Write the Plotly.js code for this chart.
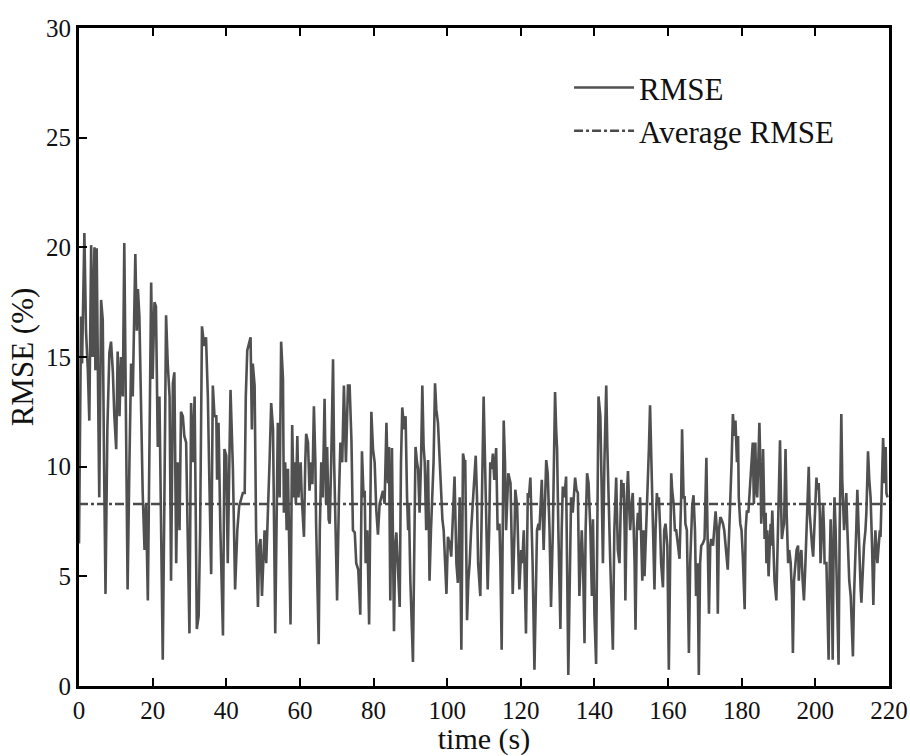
<!DOCTYPE html>
<html>
<head>
<meta charset="utf-8">
<script src="https://cdn.plot.ly/plotly-3.0.1.min.js"></script>
<style>
html,body{margin:0;padding:0;background:#fff;}
#chart{width:910px;height:756px;}
</style>
</head>
<body>
<div id="chart"></div>
<script>
// time (s)
var time = [
0, 0.56, 0.83, 1.46, 1.9, 2.4, 2.8, 3.3, 3.7, 4.2, 4.45, 4.8, 5.2, 5.5, 6.0, 6.45, 6.8, 7.2, 7.7, 8.25, 8.7, 9.2, 9.6, 10.1, 10.5, 11.0, 11.4, 11.9, 12.3, 12.8, 13.2, 13.7, 14.15, 14.6, 15.3, 15.7, 16.0, 16.4, 16.9, 17.3, 17.8, 18.2, 18.7, 19.1, 19.6, 20.0, 20.5, 20.9, 21.4, 21.85, 22.3, 22.75, 23.2, 23.65, 24.1, 24.6, 25.0, 25.5, 25.9, 26.4, 26.8, 27.3, 27.7, 28.2, 28.6, 29.1, 29.5, 30.0, 30.45, 30.9, 31.4, 32.0, 32.5, 32.9, 33.4, 34.0, 34.5, 35.0, 35.4, 35.9,
36.35, 36.8, 37.3, 37.5, 37.9, 38.4, 39.1, 39.5, 40.0, 40.4, 41.15, 41.5, 41.8, 42.4, 43.0, 43.5, 44.05, 44.5, 45.0, 45.3, 45.7, 46.1, 46.6, 46.95, 47.2, 47.7, 48.1, 48.6, 48.95, 49.3, 49.7, 49.9, 50.4, 50.85, 51.3, 51.75, 52.2, 52.7, 53.3, 53.65, 54.0, 54.5, 54.9, 55.4, 55.65, 56.0, 56.4, 56.75, 57.45, 57.9, 58.3, 58.55, 58.9, 59.3, 59.6, 59.9, 60.2, 60.5, 61.1, 61.45, 61.7, 62.2, 62.6, 63.1, 63.4, 63.8, 64.2, 64.4, 65.1, 65.4, 65.8, 66.2, 66.7, 67.1, 67.4, 67.8, 68.1, 68.5, 69.0, 69.3, 69.6, 70.1, 70.6, 71.0, 71.5, 71.95, 72.5,
73.05, 73.5, 74.0, 74.4, 74.9, 75.3, 75.85, 76.4, 76.85, 77.3, 77.6, 77.85, 78.3, 78.8, 79.4, 79.85, 80.3, 80.75, 81.2, 81.65, 82.1, 82.55, 83.0, 83.5, 83.9, 84.2, 84.55, 85.0, 85.55, 85.9, 86.2, 86.65, 87.1, 87.45, 87.8, 88.3, 88.7, 89.1, 89.4, 89.6, 90.0, 90.7, 91.2, 91.4, 91.8, 92.1, 92.5, 92.9, 93.25, 93.6, 93.9, 94.3, 94.8, 95.2, 95.6, 95.95, 96.3, 96.7, 97.05, 97.5, 97.95, 98.3, 98.7, 99.05, 99.8, 100.2, 100.7, 101.1, 101.6, 102.0, 102.5, 102.9, 103.4, 103.85, 104.3, 104.7, 104.9, 105.4, 105.75, 106.1, 106.5, 106.8, 107.3, 107.75, 108.1, 108.4, 109.0, 109.9,
110.6, 111.0, 111.4, 111.7, 112.1, 112.4, 112.8, 113.3, 113.7, 114.2, 114.45, 114.8, 115.35, 115.7, 116.0, 116.6, 117.2, 117.5, 117.8, 118.3, 118.5, 119.0, 119.6, 120.1, 120.4, 120.8, 121.4, 121.9, 122.2, 122.6, 122.95, 123.2, 123.7, 124.1, 124.4, 124.8, 125.05, 125.7, 126.2, 126.9, 127.3, 127.8, 128.2, 128.7, 128.9, 129.3, 129.6, 129.85, 130.2, 130.75, 131.1, 131.4, 131.85, 132.3, 132.9, 133.3, 133.65, 134.1, 134.4, 134.75, 135.1, 135.5, 135.9, 136.55, 136.9, 137.3, 137.6, 138.0, 138.4, 138.6, 138.9, 139.3, 139.6, 140.0, 140.45, 141.1, 141.6, 142.0, 142.3, 142.7, 143.2, 143.5, 143.8, 144.3, 145.0, 145.4, 145.9,
146.35, 146.8, 147.3, 147.5, 147.9, 148.2, 148.4, 148.8, 149.1, 149.5, 149.7, 150.1, 150.4, 150.9, 151.15, 151.5, 151.8, 152.1, 152.4, 153.0, 153.3, 153.6, 154.05, 154.5, 154.8, 155.1, 155.4, 155.7, 156.05, 156.3, 156.6, 156.95, 157.2, 157.5, 157.85, 158.1, 158.6, 158.95, 159.3, 159.8, 160.2, 160.6, 160.85, 161.1, 161.5, 161.85, 162.2, 162.7, 163.1, 163.55, 163.8, 164.2, 164.5, 164.7, 165.1, 165.4, 165.65, 166.0, 166.3, 166.55, 166.9, 167.3, 167.6, 168.0, 168.35, 168.7, 169.0, 169.45, 169.9, 170.4, 170.7, 171.1, 171.45, 171.7, 172.2, 172.6, 172.9, 173.25, 173.5, 173.8, 174.2, 174.5, 174.9, 175.25, 175.6, 176.0, 176.2, 176.6, 176.9, 177.25, 177.6, 178.0, 178.3, 178.7, 179.0, 179.2, 179.6, 179.95, 180.3, 180.8, 181.05, 181.4, 181.8, 182.1, 182.6, 183.0,
183.3, 183.7, 183.95, 184.2, 184.5, 184.8, 185.05, 185.3, 185.6, 185.8, 186.05, 186.2, 186.5, 186.7, 186.95, 187.3, 187.6, 187.85, 188.0, 188.3, 188.6, 188.9, 189.4, 189.65, 189.85, 190.1, 190.4, 190.65, 190.9, 191.2, 191.5, 191.65, 191.9, 192.2, 192.6, 192.9, 193.3, 193.65, 193.9, 194.2, 194.6, 194.9, 195.3, 195.5, 195.7, 196.0, 196.2, 196.55, 196.9, 197.3, 197.55, 197.8, 198.2, 198.45, 198.7, 199.1, 199.4, 199.6, 199.8, 200.0, 200.3, 200.5, 200.9, 201.2, 201.4, 201.8, 202.1, 202.35, 202.5, 203.0, 203.25, 203.6, 203.9, 204.15, 204.4, 204.7, 205.0, 205.2, 205.5, 205.7, 206.0, 206.3, 206.6, 206.9, 207.05, 207.3, 207.6, 207.8, 208.1, 208.4, 208.7, 208.9, 209.2, 209.6, 209.95, 210.2, 210.5, 210.9, 211.1, 211.4, 211.7, 212.0, 212.3, 212.5, 212.85, 213.2, 213.6, 213.85, 214.1, 214.3, 214.65, 215.0, 215.4, 215.75, 216.0, 216.3, 216.6, 216.85, 217.2, 217.5, 217.7, 217.9, 218.4, 218.65, 218.8, 219.1, 219.3, 219.6
];
// RMSE (%)
var rmse = [
6.5, 16.85, 14.7, 20.65, 16.2, 14.4, 12.1, 20.1, 15.0, 20.0, 14.4, 19.96, 13.2, 8.6, 17.6, 16.7, 10.2, 4.2, 11.7, 15.2, 15.7, 14.3, 12.3, 10.8, 15.25, 12.3, 15.0, 13.2, 20.2, 11.7, 4.4, 10.2, 14.7, 13.2, 19.7, 16.2, 18.1, 16.85, 11.7, 8.8, 6.2, 8.3, 3.9, 10.2, 18.4, 14.0, 17.5, 17.3, 10.9, 13.2, 7.1, 1.2, 8.6, 16.9, 14.7, 13.2, 4.8, 13.8, 14.3, 5.6, 10.2, 7.1, 12.5, 12.3, 11.4, 11.1, 7.1, 2.4, 12.9, 10.2, 13.2, 2.6, 3.2, 7.1, 16.4, 15.5, 15.9, 13.2, 9.4, 5.1,
13.7, 12.3, 12.3, 9.4, 12.0, 7.1, 2.3, 10.8, 10.5, 5.6, 13.5, 11.7, 9.9, 4.4, 7.1, 8.2, 8.6, 8.8, 8.8, 13.2, 15.3, 15.6, 15.9, 11.7, 14.7, 13.7, 7.1, 3.6, 6.4, 6.7, 4.1, 5.0, 7.1, 5.6, 7.7, 10.2, 12.9, 11.7, 2.4, 8.6, 12.0, 8.6, 15.7, 14.0, 7.9, 10.2, 7.1, 9.9, 2.8, 11.9, 8.6, 10.2, 8.3, 11.4, 8.6, 9.4, 10.2, 8.6, 6.8, 10.2, 11.5, 11.1, 8.9, 10.2, 9.2, 12.75, 10.2, 7.4, 1.9, 7.1, 10.2, 8.6, 13.1, 8.3, 10.9, 7.6, 7.4, 10.2, 14.9, 10.2, 7.1, 3.9, 8.6, 11.1, 10.2, 13.7, 10.2,
13.7, 13.7, 11.2, 7.1, 7.0, 5.6, 5.3, 3.25, 10.7, 8.6, 8.9, 5.6, 7.1, 2.8, 12.5, 10.8, 10.2, 8.0, 6.9, 8.3, 8.6, 8.9, 8.3, 12.0, 9.25, 10.9, 3.9, 10.85, 2.5, 6.4, 7.0, 5.6, 3.6, 10.2, 12.7, 11.7, 12.3, 8.6, 7.1, 8.3, 4.8, 1.1, 8.6, 10.9, 10.2, 9.9, 7.9, 10.2, 13.7, 10.9, 10.2, 7.1, 10.3, 4.8, 7.1, 8.6, 10.2, 13.8, 12.6, 12.0, 10.2, 8.6, 7.6, 7.1, 4.2, 6.8, 6.5, 5.9, 7.7, 9.55, 5.6, 4.7, 8.6, 1.65, 10.6, 10.2, 10.3, 3.0, 4.8, 5.6, 7.1, 7.9, 8.95, 10.5, 8.6, 5.6, 4.1, 13.2,
7.7, 4.4, 7.1, 10.2, 9.9, 10.6, 9.4, 10.85, 7.1, 7.4, 5.6, 1.65, 12.1, 10.2, 7.1, 9.7, 9.25, 7.1, 4.2, 7.1, 8.95, 8.2, 4.4, 6.2, 5.6, 7.1, 2.4, 8.8, 8.6, 9.5, 7.6, 5.6, 0.74, 5.6, 7.1, 7.4, 7.1, 9.4, 6.2, 10.3, 9.7, 7.1, 3.6, 7.1, 10.2, 13.4, 11.7, 10.8, 7.1, 2.6, 7.1, 9.1, 8.6, 9.55, 0.5, 5.6, 8.6, 7.9, 8.6, 9.5, 8.95, 8.8, 4.1, 7.1, 5.6, 1.95, 7.1, 9.7, 9.25, 8.6, 7.1, 4.1, 7.6, 3.2, 1.0, 13.2, 12.3, 8.6, 5.6, 10.2, 13.7, 10.9, 8.6, 5.6, 1.65, 7.1, 9.5,
6.2, 5.6, 9.4, 8.6, 9.25, 7.1, 3.9, 8.6, 9.8, 7.9, 7.1, 8.3, 8.8, 5.6, 2.56, 7.1, 7.9, 7.1, 8.6, 4.8, 7.1, 5.0, 7.1, 8.6, 10.9, 12.8, 10.9, 8.8, 7.1, 4.4, 7.1, 8.8, 8.3, 8.6, 7.1, 5.6, 4.5, 7.1, 7.4, 6.4, 0.74, 8.6, 9.7, 8.95, 8.3, 7.1, 7.1, 6.4, 5.8, 8.6, 11.7, 8.6, 8.6, 7.4, 7.1, 4.1, 1.5, 5.6, 7.1, 8.2, 8.7, 7.1, 4.1, 5.6, 0.5, 5.6, 6.4, 6.5, 6.7, 10.4, 7.1, 3.3, 6.4, 6.7, 6.4, 7.1, 7.96, 7.1, 3.3, 7.1, 7.7, 7.6, 7.4, 7.1, 6.4, 5.6, 5.3, 7.1, 8.2, 10.2, 12.4, 11.4, 12.1, 10.2, 11.4, 8.6, 7.4, 7.1, 5.9, 3.5, 7.1, 8.0, 7.9, 8.6, 10.2, 11.1,
8.3, 11.1, 8.95, 8.6, 10.2, 12.0, 10.2, 7.4, 8.6, 10.8, 8.6, 6.7, 7.9, 5.6, 7.1, 5.0, 6.4, 7.4, 6.4, 8.0, 6.4, 4.8, 3.9, 5.6, 6.4, 8.6, 11.2, 8.6, 6.7, 7.1, 7.4, 8.6, 10.8, 7.9, 5.6, 6.2, 5.6, 4.1, 1.5, 4.8, 5.6, 6.2, 6.4, 4.8, 5.6, 5.9, 6.2, 4.8, 3.9, 5.6, 7.1, 8.6, 10.0, 7.9, 7.1, 6.4, 5.9, 6.7, 7.1, 8.6, 9.5, 8.95, 9.25, 7.9, 5.6, 7.1, 8.3, 7.1, 5.6, 5.6, 4.1, 1.2, 5.6, 7.6, 5.6, 1.2, 7.1, 8.6, 7.1, 5.6, 3.3, 0.97, 7.1, 10.2, 12.4, 9.4, 7.9, 7.1, 7.9, 8.8, 7.1, 5.6, 4.8, 4.1, 2.56, 1.35, 4.1, 5.6, 7.1, 8.95, 7.1, 5.6, 4.4, 3.8, 5.6, 6.4, 7.1, 7.9, 9.4, 10.7, 9.4, 8.6, 6.4, 3.7, 5.6, 7.1, 6.2, 5.6, 6.4, 7.1, 6.8, 8.6, 11.3, 10.2, 9.25, 10.9, 8.8, 8.6
];
var avgRmse = 8.3;
var avgSpan = [0, 220];

var xTicks = [0, 20, 40, 60, 80, 100, 120, 140, 160, 180, 200, 220];
var yTicks = [0, 5, 10, 15, 20, 25, 30];

var traces = [
  {
    x: time, y: rmse, type: 'scatter', mode: 'lines', name: 'RMSE',
    line: {color: '#505050', width: 2.6}
  },
  {
    x: avgSpan, y: [avgRmse, avgRmse], type: 'scatter', mode: 'lines', name: 'Average RMSE',
    line: {color: '#4a4a4a', width: 2.5, dash: '9px,3px,3px,3px'}
  }
];

var serif = 'Liberation Serif, Times New Roman, serif';

var layout = {
  width: 910, height: 756,
  margin: {l: 79, r: 21, t: 28, b: 70},
  paper_bgcolor: '#ffffff', plot_bgcolor: '#ffffff',
  font: {family: serif, color: '#111', size: 25},
  showlegend: true,
  legend: {
    x: 0.605, y: 0.95, xanchor: 'left', yanchor: 'top',
    bgcolor: 'rgba(255,255,255,0)', borderwidth: 0,
    font: {family: serif, size: 31, color: '#111'},
    tracegroupgap: 0, itemwidth: 60
  },
  xaxis: {
    range: [0, 220], tickvals: xTicks, ticktext: xTicks.map(String),
    ticks: 'inside', ticklen: 8, tickwidth: 2, tickcolor: '#000',
    showline: true, linecolor: '#000', linewidth: 3, mirror: 'ticks',
    showgrid: false, zeroline: false,
    tickfont: {family: serif, size: 25, color: '#111'},
    title: {text: 'time (s)', font: {family: serif, size: 30, color: '#111'}, standoff: 2}
  },
  yaxis: {
    range: [0, 30], tickvals: yTicks, ticktext: yTicks.map(String),
    ticks: 'inside', ticklen: 8, tickwidth: 2, tickcolor: '#000',
    showline: true, linecolor: '#000', linewidth: 3, mirror: true,
    showgrid: false, zeroline: false,
    tickfont: {family: serif, size: 25, color: '#111'},
    title: {text: 'RMSE (%)', font: {family: serif, size: 31, color: '#111'}, standoff: 4}
  }
};

Plotly.newPlot('chart', traces, layout, {displayModeBar: false, staticPlot: true});
</script>
</body>
</html>
